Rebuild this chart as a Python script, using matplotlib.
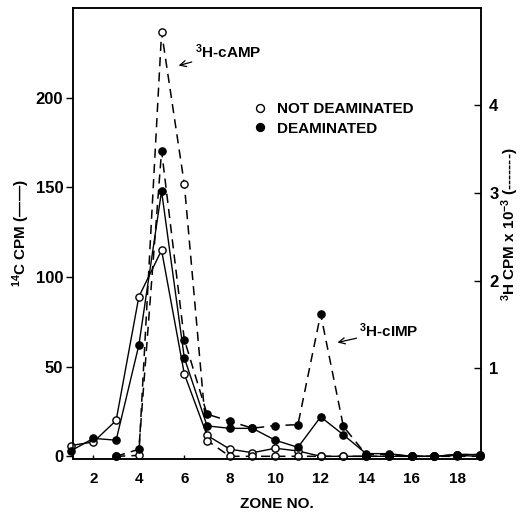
import numpy as np
import matplotlib
matplotlib.use("Agg")
import matplotlib.pyplot as plt
from matplotlib.lines import Line2D

plt.rcParams['font.family'] = ['Liberation Sans', 'DejaVu Sans']
plt.rcParams['font.weight'] = 'bold'
plt.rcParams['mathtext.fontset'] = 'custom'
plt.rcParams['mathtext.rm'] = 'Liberation Sans:bold'
plt.rcParams['mathtext.bf'] = 'Liberation Sans:bold'
plt.rcParams['mathtext.default'] = 'bf'

# 14C CPM (left axis, solid lines), zones 1-19
zones = np.arange(1, 20)
c14_not_deam = [6, 8, 20, 89, 115, 46, 11.7, 4, 2, 4.5, 3, 0, 0, 0, 0, 0, 0, 1, 1]
c14_deam = [3, 10, 9, 62, 148, 55, 17, 15.6, 15.6, 9, 5, 22, 12, 1.5, 1.5, 0, 0, 0.5, 0]

# 3H CPM x 10^-3 (right axis, dashed lines), zones 3-19
h3_zones = np.arange(3, 20)
h3_not_deam = [0, 0.01, 4.83, 3.10, 0.18, 0, 0, 0, 0, 0, 0, 0, 0, 0, 0, 0.02, 0.02]
h3_deam = [0, 0.08, 3.48, 1.33, 0.48, 0.40, 0.32, 0.35, 0.36, 1.62, 0.34, 0.02, 0.02, 0, 0, 0, 0]

fig = plt.figure(figsize=(5.21, 5.14), dpi=100)
ax = fig.add_axes([0.140, 0.107, 0.783, 0.877])
ax2 = ax.twinx()

ms = 5.2
open_kw = dict(marker='o', ms=ms, mfc='white', mec='black', mew=1.0, color='black', clip_on=False)
fill_kw = dict(marker='o', ms=ms, mfc='black', mec='black', mew=1.0, color='black', clip_on=False)

ax.plot(zones, c14_not_deam, lw=1.0, zorder=3, **open_kw)
ax.plot(zones, c14_deam, lw=1.0, zorder=3, **fill_kw)
ax2.plot(h3_zones, h3_not_deam, lw=1.1, ls=(0, (6, 4)), zorder=2, **open_kw)
ax2.plot(h3_zones, h3_deam, lw=1.1, ls=(0, (6, 4)), zorder=2, **fill_kw)

ax.set_xlim(1.1, 19.05)
ax.set_ylim(-1.5, 250)
ax2.set_ylim(-1.5 / 49, 250 / 49)

ax.set_xticks(np.arange(2, 19, 2))
ax.set_yticks([0, 50, 100, 150, 200])
ax2.set_yticks([1, 2, 3, 4])

ax.tick_params(axis='x', direction='in', length=3, width=1, labelsize=11, pad=9)
ax.tick_params(axis='y', direction='out', length=5, width=1, labelsize=12, pad=2)
ax2.tick_params(axis='y', direction='in', length=5, width=1, labelsize=12, pad=6)

for a in (ax, ax2):
    for s in a.spines.values():
        s.set_linewidth(1.1)

ax.set_xlabel('ZONE NO.', fontsize=11, fontweight='bold', labelpad=8)
ax.set_ylabel('$^{14}$C CPM (\u2014\u2014)', fontsize=11, fontweight='bold')
ax.yaxis.set_label_coords(-0.1, 0.5)
ax2.set_ylabel('$^{3}$H CPM x 10$^{-3}$ (-------)', fontsize=11, fontweight='bold',
               rotation=90)
ax2.yaxis.set_label_coords(1.046, 0.52)

ax.annotate('$^{3}$H-cAMP', xy=(5.75, 218), xytext=(6.45, 225.5),
            fontsize=11, fontweight='bold', va='center', ha='left',
            arrowprops=dict(arrowstyle='->', lw=0.9, color='black', shrinkA=0, shrinkB=0))
ax.annotate('$^{3}$H-cIMP', xy=(12.74, 63.5), xytext=(13.7, 70),
            fontsize=11, fontweight='bold', va='center', ha='left',
            arrowprops=dict(arrowstyle='->', lw=0.9, color='black', shrinkA=0, shrinkB=0))

handles = [Line2D([], [], ls='none', marker='o', ms=ms + 0.5, mfc='white', mec='black', mew=1.0),
           Line2D([], [], ls='none', marker='o', ms=ms + 0.5, mfc='black', mec='black', mew=1.0)]
ax.legend(handles, ['NOT DEAMINATED', 'DEAMINATED'], loc='upper left',
          bbox_to_anchor=(0.41, 0.822), frameon=False, handlelength=0.8,
          handletextpad=0.7, labelspacing=0.35, prop={'size': 11, 'weight': 'bold'})

fig.savefig('out.png', dpi=100)
